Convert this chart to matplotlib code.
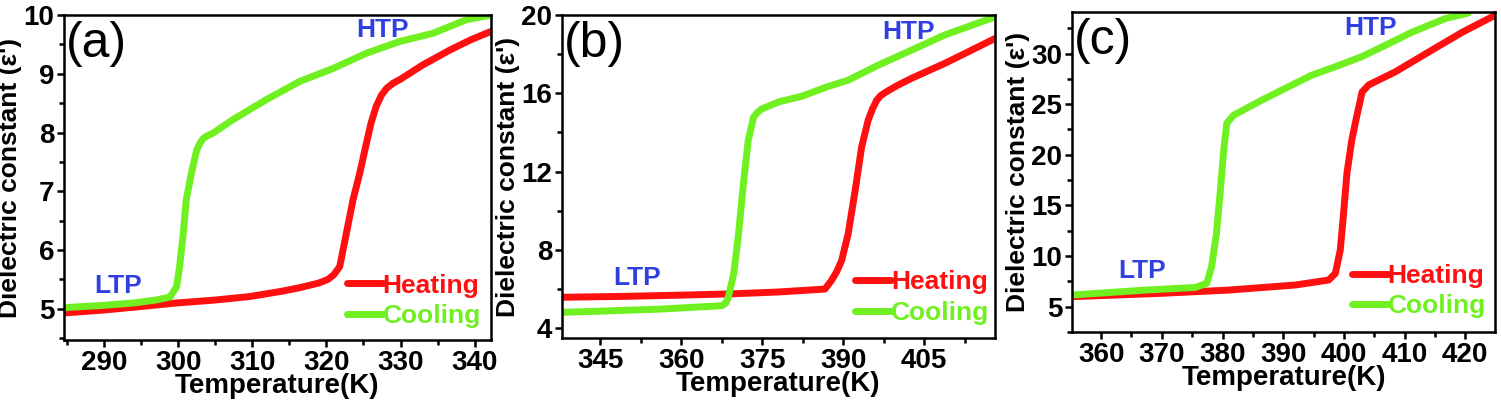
import matplotlib
matplotlib.use('Agg')
import matplotlib.pyplot as plt
from matplotlib.ticker import MultipleLocator, AutoMinorLocator

plt.rcParams['font.family'] = ['Liberation Sans', 'DejaVu Sans']
plt.rcParams['font.weight'] = 'bold'

RED = '#ff1010'
GREEN = '#70f020'
BLUE = '#3040e0'

# panel (a)
a_heat_T = [284.6, 290, 295, 299.8, 305, 309.7, 314, 316.4, 319, 320.2, 321.0, 321.8, 322.7,
            323.6, 324.5, 325.4, 326.0, 326.7, 327.4, 328.1, 329.0, 329.9, 333.0, 336.6, 339.5, 342.2]
a_heat_e = [4.93, 4.98, 5.04, 5.1, 5.15, 5.21, 5.3, 5.36, 5.44, 5.5, 5.58, 5.72, 6.29,
            6.86, 7.31, 7.82, 8.15, 8.44, 8.63, 8.75, 8.84, 8.9, 9.15, 9.4, 9.58, 9.72]
a_cool_T = [284.6, 290, 294, 297, 298.9, 299.8, 300.2, 300.7, 301.1, 301.8, 302.5, 303.0, 303.4,
            304.0, 304.7, 307.4, 311.9, 316.4, 320.9, 325.4, 329.9, 334.4, 338.9, 342.2]
a_cool_e = [5.02, 5.06, 5.1, 5.15, 5.2, 5.38, 5.72, 6.29, 6.86, 7.31, 7.7, 7.83, 7.9,
            7.95, 7.99, 8.22, 8.56, 8.87, 9.09, 9.35, 9.55, 9.69, 9.92, 10.0]

# panel (b)
b_heat_T = [337.9, 350, 360, 368.7, 378, 386.6, 387.8, 388.8, 389.7, 390.9, 392.2, 393.4, 394.6,
            395.4, 396.2, 397.0, 398.0, 400.0, 402.6, 408.8, 413, 418.1]
b_heat_e = [5.58, 5.63, 5.69, 5.75, 5.85, 6.0, 6.43, 6.9, 7.46, 8.82, 11.04, 13.26, 14.62,
            15.2, 15.65, 15.9, 16.08, 16.4, 16.76, 17.53, 18.1, 18.8]
b_cool_T = [337.9, 346, 356.4, 367.5, 368.3, 368.7, 369.7, 370.6, 371.5, 372.4, 373.4, 374.2,
            374.9, 378.0, 382.3, 387.2, 390.9, 396.5, 402.6, 408.8, 418.1]
b_cool_e = [4.81, 4.88, 4.98, 5.15, 5.3, 5.58, 6.77, 8.82, 11.38, 13.6, 14.8, 15.05,
            15.2, 15.56, 15.85, 16.35, 16.67, 17.44, 18.2, 18.98, 19.9]

# panel (c)
c_heat_T = [355.2, 370, 381, 392, 397.5, 398.6, 399.4, 399.9, 400.5, 401.3, 402.1, 403.0,
            404.1, 408.5, 414.0, 419.5, 425.0]
c_heat_e = [5.99, 6.32, 6.64, 7.14, 7.63, 8.29, 10.59, 13.88, 18.16, 21.45, 23.75, 26.2,
            26.9, 28.2, 30.16, 32.1, 33.8]
c_cool_T = [355.2, 367.3, 375.5, 377.4, 378.2, 379.0, 379.6, 380.2, 380.7, 381.8, 386.5, 390.3,
            394.7, 398.6, 403.0, 406.3, 411.2, 416.7, 420.5]
c_cool_e = [6.15, 6.64, 6.9, 7.3, 8.95, 12.24, 16.18, 20.46, 23.1, 23.9, 25.4, 26.55,
            27.86, 28.7, 29.7, 30.66, 32.1, 33.45, 34.0]

panels = [
    dict(tag='(a)', rect=[0.0426, 0.150, 0.2845, 0.8125], xlim=(284.6, 342.2), ylim=(4.47, 10),
         xmaj=10, ymaj=1, heat=(a_heat_T, a_heat_e), cool=(a_cool_T, a_cool_e),
         htp=(0.745, 0.954), ltp=(0.127, 0.166), leg=(0.663, 0.12)),
    dict(tag='(b)', rect=[0.3744, 0.155, 0.2885, 0.8075], xlim=(337.9, 418.1), ylim=(3.5, 20),
         xmaj=15, ymaj=4, heat=(b_heat_T, b_heat_e), cool=(b_cool_T, b_cool_e),
         htp=(0.80, 0.947), ltp=(0.173, 0.186), leg=(0.677, 0.125)),
    dict(tag='(c)', rect=[0.7142, 0.170, 0.2818, 0.800], xlim=(355.2, 424.9), ylim=(2.5, 34.1),
         xmaj=10, ymaj=5, heat=(c_heat_T, c_heat_e), cool=(c_cool_T, c_cool_e),
         htp=(0.705, 0.95), ltp=(0.165, 0.19), leg=(0.662, 0.128)),
]

fig = plt.figure(figsize=(15.01, 4.0), dpi=100)

for p in panels:
    ax = fig.add_axes(p['rect'])
    ax.plot(*p['heat'], color=RED, lw=5, label='Heating', solid_capstyle='round')
    ax.plot(*p['cool'], color=GREEN, lw=5, label='Cooling', solid_capstyle='round')
    ax.set_xlim(p['xlim'])
    ax.set_ylim(p['ylim'])
    ax.xaxis.set_major_locator(MultipleLocator(p['xmaj']))
    ax.yaxis.set_major_locator(MultipleLocator(p['ymaj']))
    ax.xaxis.set_minor_locator(AutoMinorLocator(2))
    ax.yaxis.set_minor_locator(AutoMinorLocator(2))
    ax.tick_params(which='major', direction='out', length=5, width=1.8, labelsize=20, pad=2)
    ax.tick_params(which='minor', direction='out', length=3.5, width=1.8)
    for s in ax.spines.values():
        s.set_linewidth(1.8)
    ax.set_xlabel('Temperature(K)', fontsize=20, fontweight='bold', labelpad=-2)
    ax.set_ylabel("Dielectric constant (\u03b5')", fontsize=19, fontweight='bold', labelpad=1)
    ax.text(0.005, 0.91, p['tag'], transform=ax.transAxes, fontsize=36, fontweight='normal',
            ha='left', va='center')
    ax.text(*p['htp'], 'HTP', transform=ax.transAxes, fontsize=19, color=BLUE,
            ha='center', va='center')
    ax.text(*p['ltp'], 'LTP', transform=ax.transAxes, fontsize=19, color=BLUE,
            ha='center', va='center')
    leg = ax.legend(loc='center left', bbox_to_anchor=p['leg'], frameon=False, fontsize=19,
                    handlelength=1.35, handletextpad=0.0, labelspacing=0.25, borderpad=0,
                    borderaxespad=0)
    for t, c in zip(leg.get_texts(), (RED, GREEN)):
        t.set_color(c)

fig.savefig('out.png', dpi=100)
